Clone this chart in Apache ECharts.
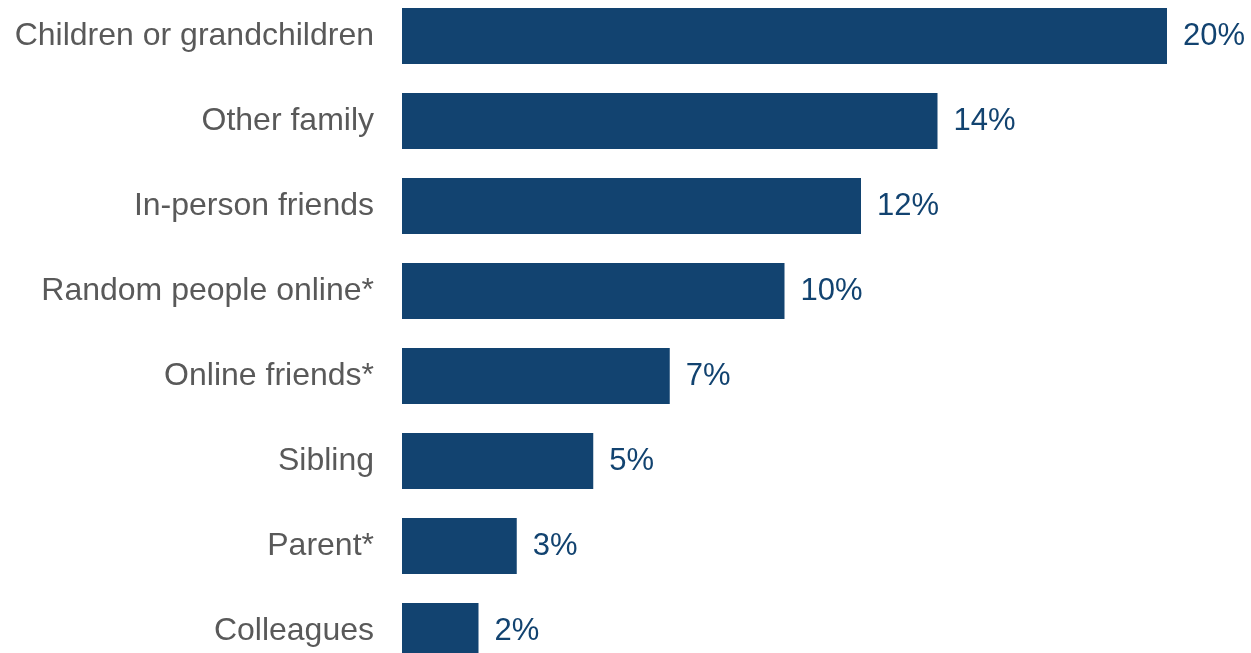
<!DOCTYPE html>
<html><head><meta charset="utf-8">
<script src="https://cdn.jsdelivr.net/npm/echarts@6/dist/echarts.min.js"></script>
<style>html,body{margin:0;padding:0;background:#fff}#c{width:1251px;height:653px}</style>
</head><body><div id="c"></div>
<script>
const categories = ["Children or grandchildren","Other family","In-person friends","Random people online*","Online friends*","Sibling","Parent*","Colleagues"];
const values = [20,14,12,10,7,5,3,2];
const chart = echarts.init(document.getElementById('c'));
chart.setOption({
  animation:false,
  grid:{left:402,width:765,top:-6.5,height:680,containLabel:false,outerBoundsMode:'none'},
  xAxis:{type:'value',min:0,max:20,show:false},
  yAxis:{type:'category',data:categories,inverse:true,
    axisLine:{show:false},axisTick:{show:false},
    axisLabel:{fontFamily:'Liberation Sans, Arial',fontSize:32,color:'#595959',margin:28,padding:[4,0,0,0]}},
  series:[{type:'bar',data:values,barWidth:56,
    itemStyle:{color:'#124370'},
    label:{show:true,position:'right',distance:16,formatter:'{c}%',fontFamily:'Liberation Sans, Arial',fontSize:31,color:'#124370',padding:[4,0,0,0]}}]
});
</script></body></html>
